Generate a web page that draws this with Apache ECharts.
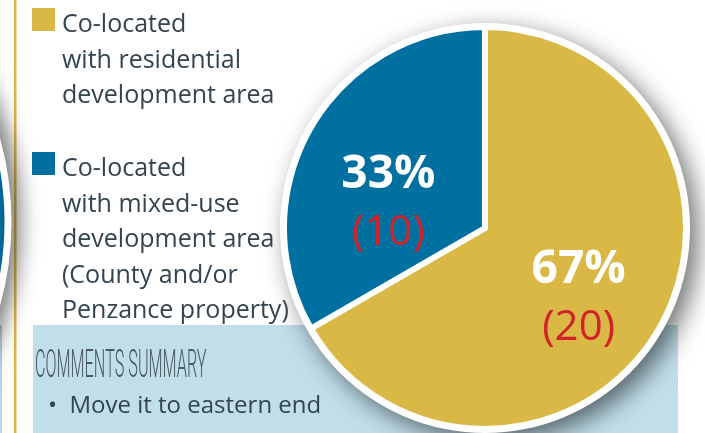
<!DOCTYPE html>
<html>
<head>
<meta charset="utf-8">
<script src="https://cdn.jsdelivr.net/npm/echarts@6/dist/echarts.min.js"></script>
<style>
  html, body { margin: 0; padding: 0; background: #fff; }
  #chart { width: 705px; height: 433px; }
</style>
</head>
<body>
<div id="chart"></div>
<script>
// slice names (legend text), counts and colours
const categories = [
  'Co-located\nwith residential\ndevelopment area',
  'Co-located\nwith mixed-use\ndevelopment area\n(County and/or\nPenzance property)'
]
const counts = [20, 10]
const sliceColors = ['#d9b846', '#0070a1']
const commentsTitle = 'COMMENTS SUMMARY'
const comments = ['Move it to eastern end']

const textColor = '#33444f'
const lineH = 35.6
const chart = echarts.init(document.getElementById('chart'))

// legend square sits on the first text line: icon box is as tall as the text
function legendIcon (lines) {
  return 'path://M0,0L0,0M0,1h23v23h-23zM25,' + lines * lineH + 'L25,' + lines * lineH
}
function legendFor (name, top) {
  const lines = name.split('\n').length
  return {
    data: [name],
    left: 32,
    top: top,
    padding: 0,
    orient: 'vertical',
    selectedMode: false,
    itemWidth: 25,
    itemHeight: lines * lineH,
    icon: legendIcon(lines),
    itemStyle: { borderWidth: 0 },
    textStyle: {
      color: textColor,
      fontFamily: 'Open Sans',
      fontSize: 25,
      lineHeight: lineH
    }
  }
}

const total = counts.reduce((a, b) => a + b, 0)
// nudges for the two slice labels
const labelOffsets = [[4, 19], [-7, 28]]

const option = {
  animation: false,
  backgroundColor: '#fff',
  legend: [legendFor(categories[0], 7), legendFor(categories[1], 151)],
  graphic: [
    // gold rule on the left
    { type: 'rect', z: 0, shape: { x: 14, y: 0, width: 2.5, height: 433 }, style: { fill: '#d9b846' } },
    // sliver of the neighbouring box
    { type: 'rect', z: 0, shape: { x: -10, y: 325, width: 12, height: 120 }, style: { fill: '#b9d6e2' } },
    // edge of the neighbouring pie
    {
      type: 'circle', z: 1,
      shape: { cx: -300, cy: 222, r: 308 },
      style: {
        fill: '#0070a1', stroke: '#fff', lineWidth: 7,
        shadowBlur: 22, shadowOffsetX: 6, shadowColor: 'rgba(0,0,0,0.55)'
      }
    },
    // comments box
    { type: 'rect', z: 0, shape: { x: 33, y: 325, width: 645, height: 120 }, style: { fill: '#c0dfeb' } },
    {
      type: 'text', z: 1, x: 35, y: 348, scaleX: 0.427,
      style: {
        text: commentsTitle, fill: '#4a5860',
        font: '300 38px Roboto', verticalAlign: 'top'
      }
    },
    {
      type: 'text', z: 1, x: 48, y: 389,
      style: {
        text: comments.map(c => '•  ' + c).join('\n'),
        fill: textColor, font: '24px "Open Sans"', lineHeight: 35, verticalAlign: 'top'
      }
    }
  ],
  series: [
    {
      // white disc behind the pie, with its drop shadow
      type: 'pie',
      silent: true,
      z: 1,
      center: [485, 228],
      radius: 205,
      label: { show: false },
      labelLine: { show: false },
      data: [{ value: total, name: '' }],
      itemStyle: {
        color: '#fff',
        shadowBlur: 24,
        shadowOffsetX: 8,
        shadowOffsetY: 8,
        shadowColor: 'rgba(0,0,0,0.55)'
      }
    },
    {
      type: 'pie',
      z: 2,
      center: [485, 228],
      radius: 201,
      startAngle: 90,
      clockwise: true,
      percentPrecision: 0,
      itemStyle: { borderColor: '#fff', borderWidth: 6 },
      label: {
        show: true,
        position: 'inner',
        formatter: '{pct|{d}%}\n{cnt|({c})}',
        rich: {
          pct: { color: '#fff', fontFamily: 'Open Sans', fontWeight: 'bold', fontSize: 46, lineHeight: 58 },
          cnt: { color: '#d2232a', fontFamily: 'Open Sans', fontSize: 42, lineHeight: 58 }
        }
      },
      labelLine: { show: false },
      emphasis: { disabled: true },
      data: categories.map((name, i) => ({
        name: name,
        value: counts[i],
        itemStyle: { color: sliceColors[i] },
        label: { offset: labelOffsets[i] }
      }))
    }
  ]
}

chart.setOption(option)
</script>
</body>
</html>
